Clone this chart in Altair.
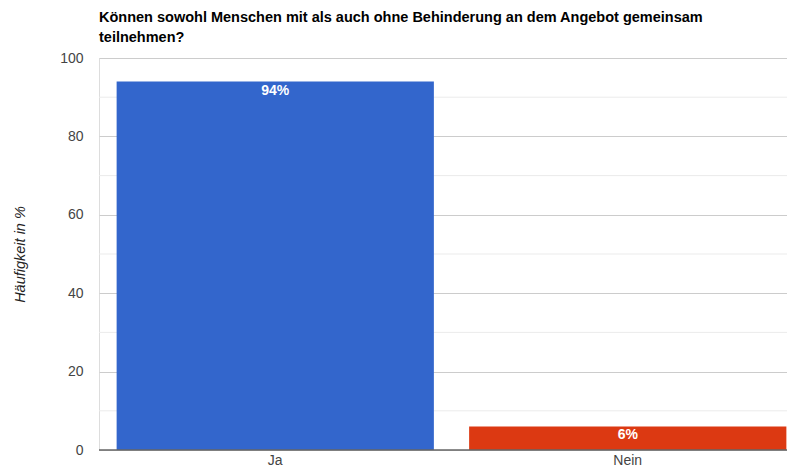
import altair as alt
import pandas as pd

categories = ["Ja", "Nein"]
values = [94, 6]
labels = ["94%", "6%"]
colors = ["#3366cc", "#dc3912"]
major_ticks = [0, 20, 40, 60, 80, 100]
minor_ticks = [10, 30, 50, 70, 90]

df = pd.DataFrame({"cat": categories, "val": values, "lab": labels, "col": colors})
minor_df = pd.DataFrame({"v": minor_ticks})
base_df = pd.DataFrame({"v": [0]})

FONT = "Arial, Liberation Sans, sans-serif"
H = 392

yscale = alt.Scale(domain=[0, 100], nice=False)
xscale = alt.Scale(paddingInner=0.1, paddingOuter=0.05, range=[0, 705])

minor = alt.Chart(minor_df).mark_rule(color="#ebebeb", strokeWidth=1).encode(
    y=alt.Y("v:Q", scale=yscale)
)

bars = alt.Chart(df).mark_bar().encode(
    x=alt.X("cat:N", scale=xscale, sort=categories,
            axis=alt.Axis(title=None, labelAngle=0, ticks=False, domain=False,
                          labelPadding=3, labelFontSize=14, labelColor="#444",
                          labelFont=FONT)),
    y=alt.Y("val:Q", scale=yscale,
            axis=alt.Axis(values=major_ticks, grid=True, gridColor="#cccccc",
                          domain=False, ticks=False, labelPadding=16,
                          labelFontSize=14, labelColor="#444", labelFont=FONT,
                          title="Häufigkeit in %", titleFont=FONT,
                          titleFontSize=14.5, titleFontStyle="italic",
                          titleFontWeight="normal", titleColor="#222",
                          titleX=-79, titleY=H / 2, titleAngle=-90,
                          titleAlign="center", titleBaseline="middle")),
    color=alt.Color("col:N", scale=None),
)

text = alt.Chart(df).mark_text(color="white", fontWeight="bold", fontSize=14,
                               baseline="top", dy=2, font=FONT).encode(
    x=alt.X("cat:N", scale=xscale, sort=categories),
    y=alt.Y("val:Q", scale=yscale),
    text="lab:N",
)

baseline = alt.Chart(base_df).mark_rule(color="#666666", strokeWidth=1.5).encode(
    y=alt.Y("v:Q", scale=yscale)
)

chart = alt.layer(minor, bars, text, baseline).properties(
    width=688,
    height=H,
    title=alt.TitleParams(
        text=["Können sowohl Menschen mit als auch ohne Behinderung an dem Angebot gemeinsam",
              "teilnehmen?"],
        anchor="start", font=FONT, fontSize=14.5, fontWeight="bold",
        color="#000000", lineHeight=20, offset=6, frame="group",
    ),
    autosize=alt.AutoSizeParams(type="none"),
    padding={"left": 91, "top": 50, "right": 0, "bottom": 16},
).configure_view(stroke=None).configure(background="white")

chart.save("out.html", embed_options={"renderer": "svg", "actions": False})
